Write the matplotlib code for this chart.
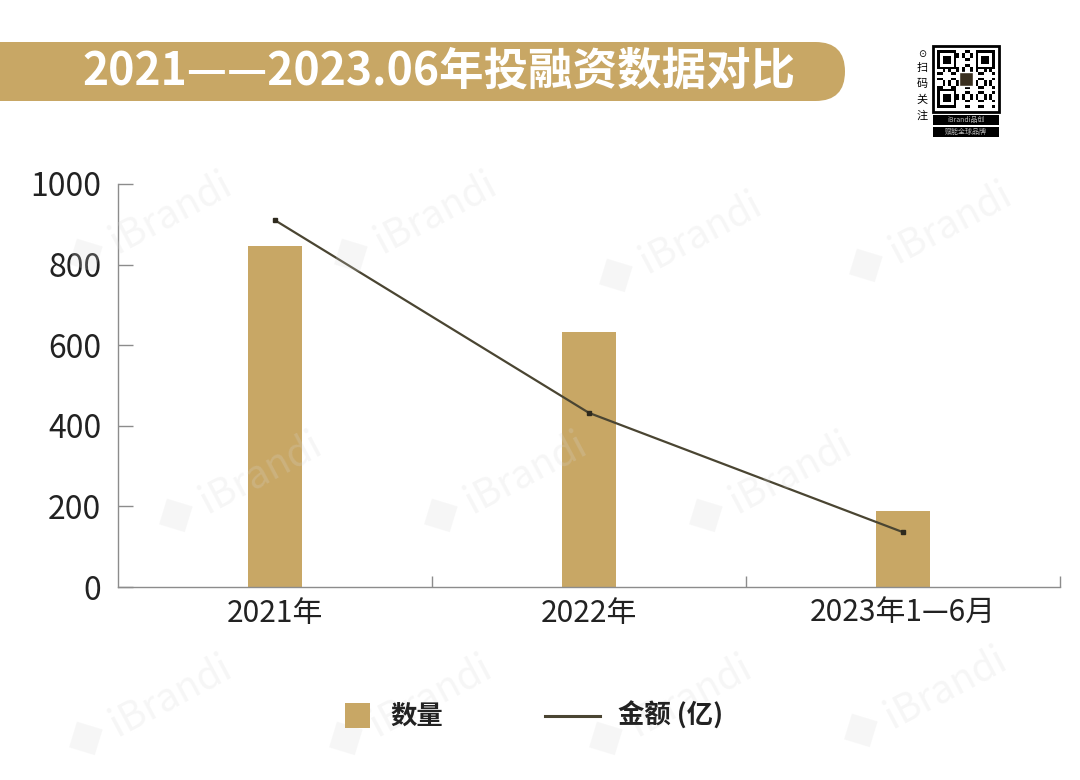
import matplotlib
matplotlib.use("Agg")
import matplotlib.pyplot as plt
import numpy as np
from matplotlib.patches import FancyBboxPatch, Rectangle

plt.rcParams["font.family"] = ["Noto Sans CJK SC", "DejaVu Sans"]

# data
categories = ["2021年", "2022年", "2023年1—6月"]
counts = [845, 632, 188]        # 数量
amounts = [910, 432, 136]       # 金额 (亿)
yticks = [0, 200, 400, 600, 800, 1000]
legend_labels = ["数量", "金额 (亿)"]

title = "2021——2023.06年投融资数据对比"
gold = "#C8A765"
line_color = "#4A4532"
text_color = "#222222"
axis_color = "#8C8C8C"

fig = plt.figure(figsize=(10.8, 7.8), dpi=100)
fig.patch.set_facecolor("white")

ax = fig.add_axes([118 / 1080, 1 - 587 / 780, (1060 - 118) / 1080, (587 - 184) / 780])
x = np.arange(len(categories))
ax.bar(x, counts, width=0.17, color=gold, zorder=2)
ax.plot(x, amounts, color=line_color, lw=1.6, marker="s", ms=3.5,
        mfc="#2E2A1E", mec="#2E2A1E", zorder=3)

ax.set_xlim(-0.5, 2.5)
ax.set_ylim(0, 1000)
ax.set_yticks(yticks)
ax.set_xticks(x)
ax.set_xticklabels(categories)
ax.set_xticks([0.5, 1.5, 2.5], minor=True)
ax.tick_params(axis="x", which="major", length=0, pad=8, labelsize=21.5, labelcolor=text_color)
ax.tick_params(axis="x", which="minor", direction="in", length=8, color=axis_color, width=1)
ax.tick_params(axis="y", direction="in", length=11, color=axis_color, width=1,
               pad=12, labelsize=23, labelcolor=text_color)
for side in ["top", "right"]:
    ax.spines[side].set_visible(False)
for side in ["left", "bottom"]:
    ax.spines[side].set_color(axis_color)
    ax.spines[side].set_linewidth(1)

# overlay in pixel coordinates for banner, legend, QR block and watermarks
ov = fig.add_axes([0, 0, 1, 1], zorder=5)
ov.set_xlim(0, 1080)
ov.set_ylim(780, 0)
ov.axis("off")
ov.patch.set_alpha(0)

banner = FancyBboxPatch((-60, 42), 905, 59, boxstyle="round,pad=0,rounding_size=29.5",
                        facecolor=gold, edgecolor="none")
ov.add_patch(banner)
ov.text(439, 72, title, color="white", fontsize=32, fontweight="bold",
        ha="center", va="center")

# legend
ov.add_patch(Rectangle((345, 703), 25, 25, facecolor=gold, edgecolor="none"))
ov.text(390, 716, legend_labels[0], fontsize=19, fontweight="bold", color=text_color,
        ha="left", va="center")
ov.plot([545, 600], [716, 716], color=line_color, lw=2.2)
ov.text(618, 716, legend_labels[1], fontsize=19, fontweight="bold", color=text_color,
        ha="left", va="center")

# QR badge
qx, qy, qs = 933, 46, 66
ov.add_patch(Rectangle((qx, qy), qs, qs, facecolor="white", edgecolor="black", lw=2))
n = 21
cell = (qs - 8) / n
for i in range(n):
    for j in range(n):
        finder = (i < 7 and j < 7) or (i < 7 and j >= n - 7) or (i >= n - 7 and j < 7)
        if finder:
            ii = i if i < 7 else i - (n - 7)
            jj = j if j < 7 else j - (n - 7)
            on = ii in (0, 6) or jj in (0, 6) or (2 <= ii <= 4 and 2 <= jj <= 4)
        else:
            on = ((i * 7 + j * 11 + i * j) % 5) < 2
        if on:
            ov.add_patch(Rectangle((qx + 4 + j * cell, qy + 4 + i * cell), cell, cell,
                                   facecolor="black", edgecolor="none"))
ov.add_patch(Rectangle((qx + qs / 2 - 7, qy + qs / 2 - 7), 14, 14, facecolor="#3A3020", edgecolor="white", lw=1))
ov.add_patch(Rectangle((qx, 115), qs, 10, facecolor="black"))
ov.add_patch(Rectangle((qx, 127), qs, 10, facecolor="black"))
ov.text(qx + qs / 2, 120, "iBrandi品创", color="#BBBBBB", fontsize=5, ha="center", va="center")
ov.text(qx + qs / 2, 132, "赋能全球品牌", color="#BBBBBB", fontsize=5, ha="center", va="center")
for k, ch in enumerate("扫码关注"):
    ov.text(922, 68 + k * 16, ch, fontsize=8, ha="center", va="center", color="black")
ov.text(922, 54, "⊙", fontsize=7, ha="center", va="center", color="black", family="DejaVu Sans")

# watermarks
wm_pos = [(150, 225), (415, 225), (680, 245), (930, 235),
          (240, 485), (505, 485), (770, 485),
          (150, 708), (410, 708), (670, 708), (925, 700)]
for px, py in wm_pos:
    ov.text(px, py, "◆ iBrandi", fontsize=28, color="#D8D8D8", alpha=0.22,
            rotation=28, ha="center", va="center", zorder=0)

fig.savefig("out.png", dpi=100, facecolor="white")
